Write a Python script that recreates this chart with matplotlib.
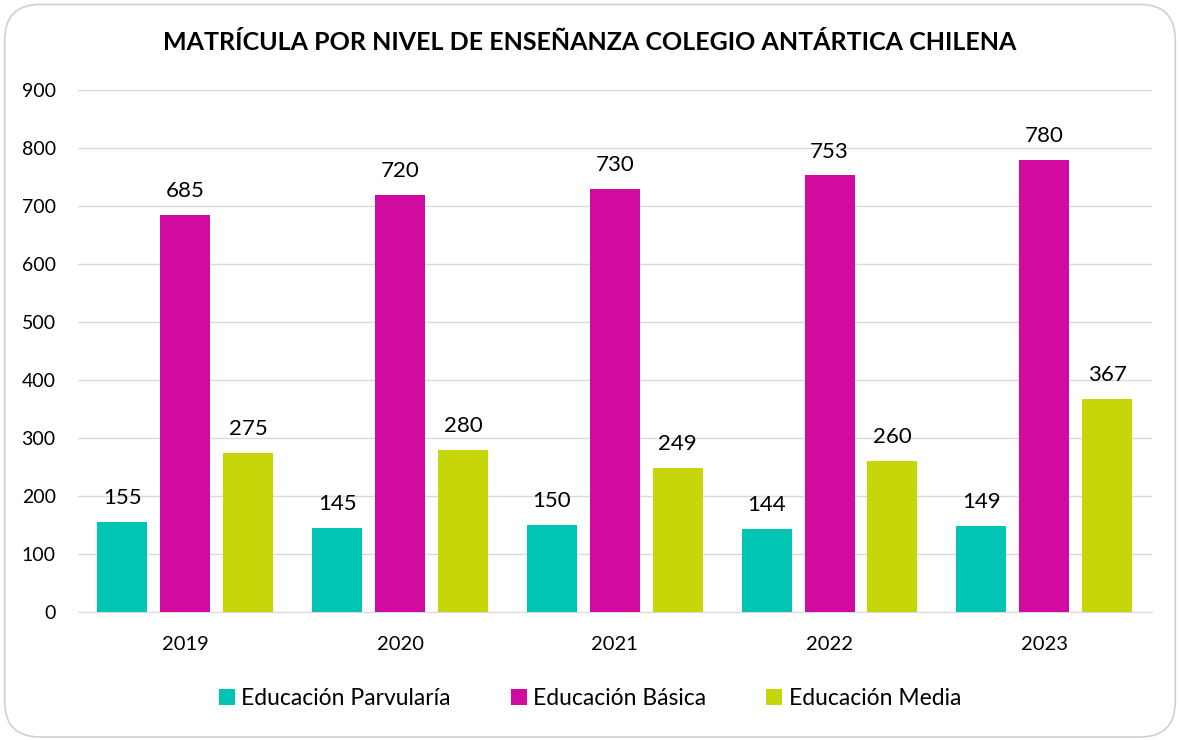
import numpy as np
import matplotlib.pyplot as plt
from matplotlib.patches import FancyBboxPatch

plt.rcParams['font.family'] = ['Lato', 'DejaVu Sans']

# Data
years = ['2019', '2020', '2021', '2022', '2023']
parvularia = [155, 145, 150, 144, 149]
basica = [685, 720, 730, 753, 780]
media = [275, 280, 249, 260, 367]
series_names = ['Educación Parvularía', 'Educación Básica', 'Educación Media']
colors = ['#00C5B5', '#D20BA0', '#C6D608']

fig = plt.figure(figsize=(11.8, 7.4), dpi=100)
fig.patch.set_facecolor('white')

# rounded chart border
border = FancyBboxPatch((0.004, 0.004), 0.992, 0.99, boxstyle='round,pad=0,rounding_size=0.03',
                        transform=fig.transFigure, facecolor='none', edgecolor='#D0D0D0',
                        linewidth=1.2, mutation_aspect=1180 / 740, zorder=-1)
fig.patches.append(border)

ax = fig.add_axes([0.066, 0.173, 0.91, 0.705])
ax.set_facecolor('none')

x = np.arange(len(years))
width = 0.233
step = 0.293
for i, (vals, name, c) in enumerate(zip([parvularia, basica, media], series_names, colors)):
    bars = ax.bar(x + (i - 1) * step, vals, width, color=c, label=name, zorder=3)
    for b, v in zip(bars, vals):
        ax.text(b.get_x() + b.get_width() / 2, v + 24, str(v), ha='center', va='bottom',
                fontsize=16, color='#000000')

ax.set_xlim(-0.5, 4.5)
ax.set_ylim(0, 900)
ax.set_yticks(range(0, 901, 100))
ax.set_xticks(x)
ax.set_xticklabels(years)
ax.grid(axis='y', color='#D9D9D9', linewidth=1, zorder=0)
for s in ['top', 'right', 'left']:
    ax.spines[s].set_visible(False)
ax.spines['bottom'].set_color('#D9D9D9')
ax.tick_params(axis='both', length=0, colors='#000000')
ax.tick_params(axis='y', pad=16, labelsize=14)
ax.tick_params(axis='x', pad=17, labelsize=14.5)

fig.text(0.5, 0.943, 'MATRÍCULA POR NIVEL DE ENSEÑANZA COLEGIO ANTÁRTICA CHILENA',
         ha='center', va='center', fontsize=18, fontweight='bold')

fig.legend(loc='center', bbox_to_anchor=(0.5, 0.056), ncol=3, frameon=False,
           fontsize=16.5, handlelength=0.7, handleheight=0.7, columnspacing=2.6, handletextpad=0.3)

fig.savefig('out.png', dpi=100)
